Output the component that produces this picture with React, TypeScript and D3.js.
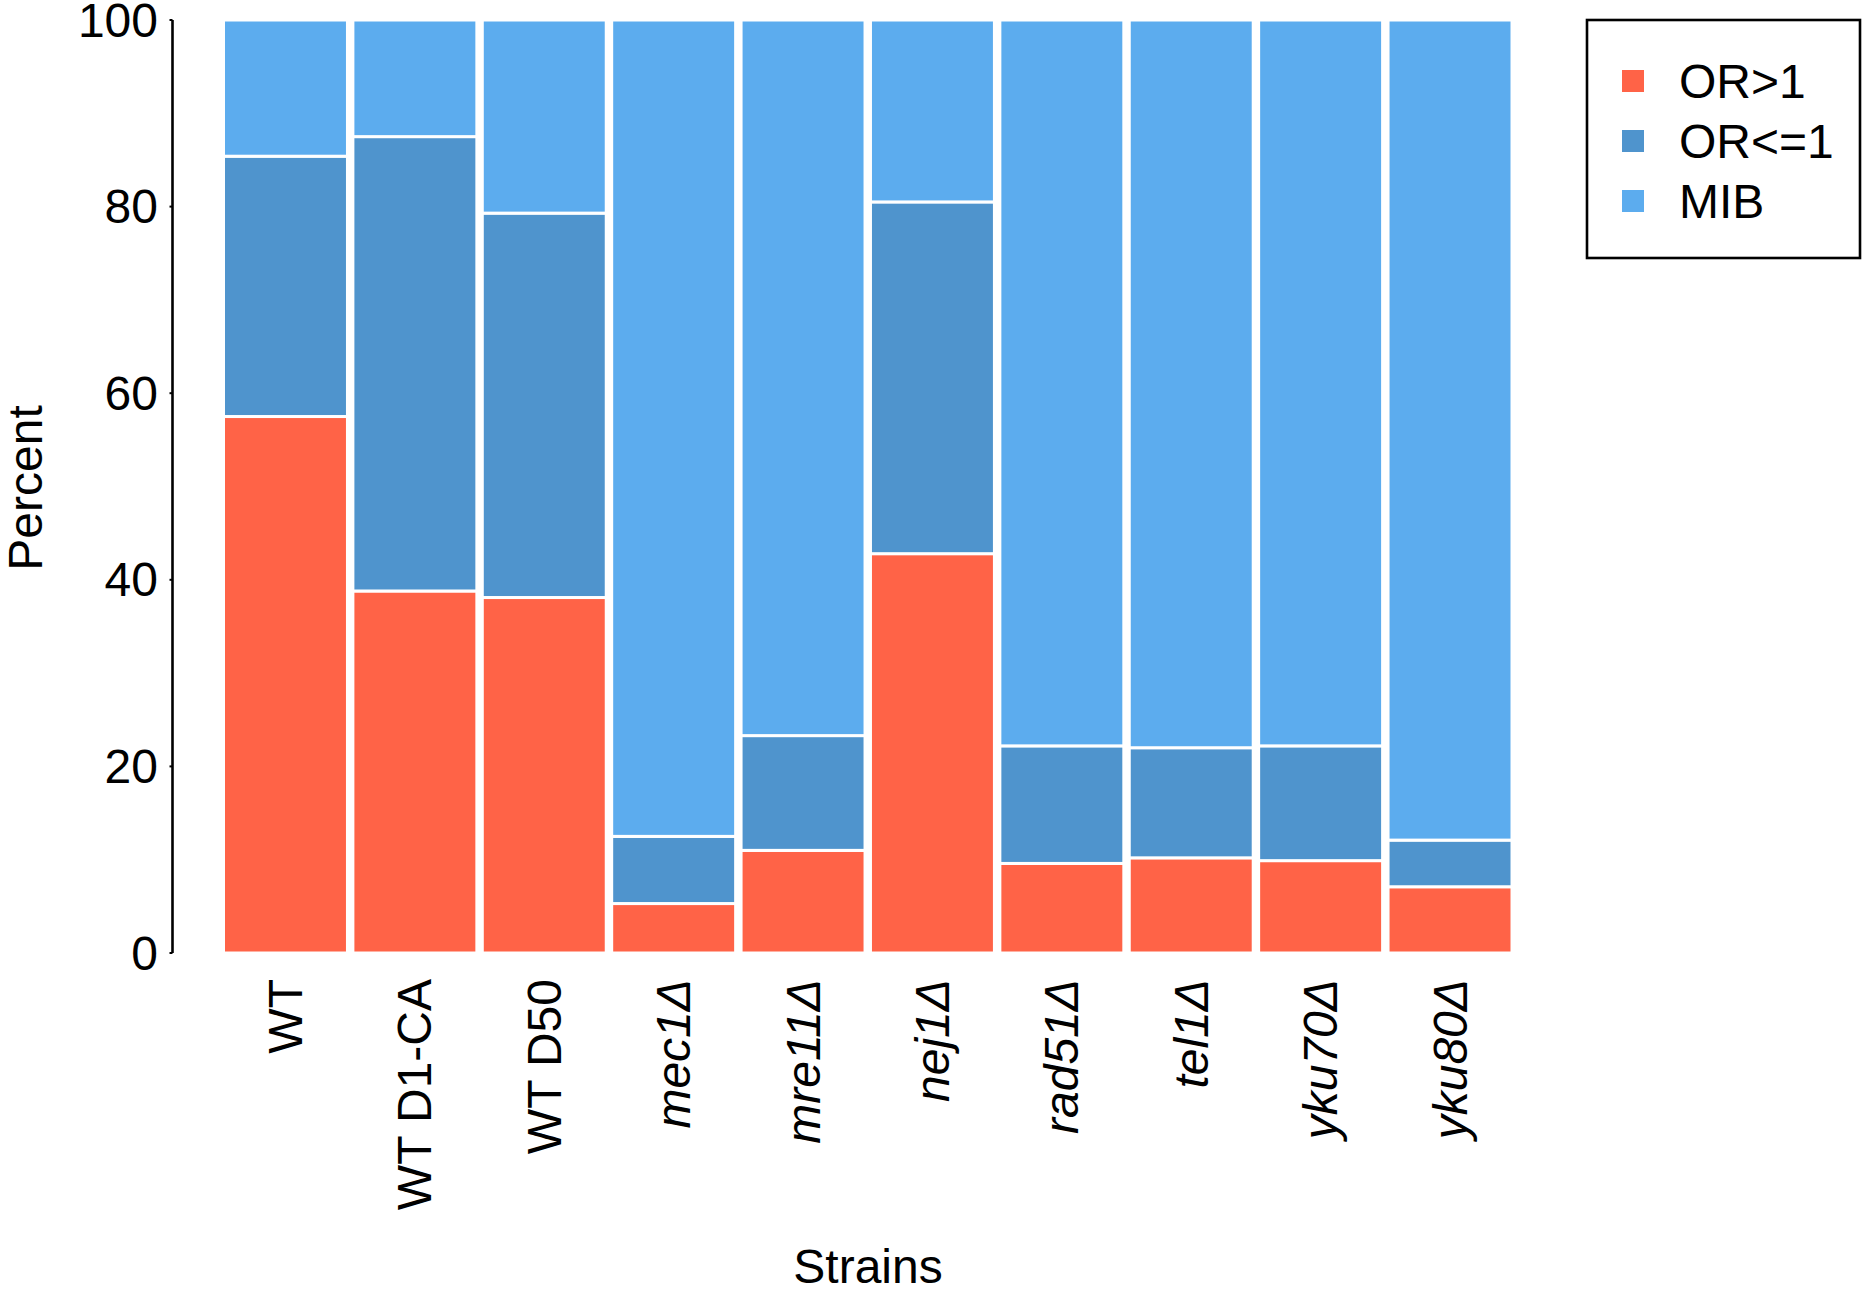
import React from "react";
import * as d3 from "d3";

// strains along the x axis; the mutant names are set in italics
const strains = ["WT", "WT D1-CA", "WT D50", "mec1Δ", "mre11Δ", "nej1Δ", "rad51Δ", "tel1Δ", "yku70Δ", "yku80Δ"];
const italicStrain = [false, false, false, true, true, true, true, true, true, true];

// percent of each class per strain (bottom to top)
const orGt1 = [57.5, 38.8, 38.1, 5.3, 11.0, 42.8, 9.6, 10.2, 9.9, 7.1];
const orLe1 = [27.9, 48.7, 41.2, 7.2, 12.3, 37.7, 12.6, 11.8, 12.3, 5.0];
const mib = strains.map((_, i) => 100 - orGt1[i] - orLe1[i]);

const classes = ["OR>1", "OR<=1", "MIB"];
const classColors = ["#FF6347", "#4F94CD", "#5CACEE"];
const yTicks = [0, 20, 40, 60, 80, 100];

const W = 1867;
const H = 1291;
const FONT = "'Liberation Sans', Arial, Helvetica, sans-serif";

export default function App() {
  const rows = strains.map((s, i) => ({
    strain: s,
    "OR>1": orGt1[i],
    "OR<=1": orLe1[i],
    MIB: mib[i],
  }));

  const x = d3
    .scaleBand<string>()
    .domain(strains)
    .range([223.5, 1512])
    .paddingInner(0.042)
    .paddingOuter(0);

  const y = d3.scaleLinear().domain([0, 100]).range([953, 20]);

  const color = d3.scaleOrdinal<string, string>().domain(classes).range(classColors);

  const series = d3.stack<any>().keys(classes)(rows);

  const axisX = 172.5;

  return (
    <svg
      width={W}
      height={H}
      style={{ position: "absolute", left: 0, top: 0, background: "#fff" }}
      fontFamily={FONT}
    >
      {/* stacked bars */}
      {series.map((s) => (
        <g key={s.key} fill={color(s.key)}>
          {s.map((d, i) => (
            <rect
              key={strains[i]}
              x={x(strains[i])}
              y={y(d[1])}
              width={x.bandwidth()}
              height={y(d[0]) - y(d[1])}
              stroke="#fff"
              strokeWidth={3}
            />
          ))}
        </g>
      ))}

      {/* y axis */}
      <line x1={axisX} x2={axisX} y1={y(100)} y2={y(0)} stroke="#000" strokeWidth={2.6} />
      {yTicks.map((t) => (
        <g key={t}>
          <line x1={axisX - 3} x2={axisX} y1={y(t)} y2={y(t)} stroke="#000" strokeWidth={2} />
          <text
            x={158}
            y={y(t)}
            textAnchor="end"
            dominantBaseline="central"
            fontSize={48}
            fill="#000"
          >
            {t}
          </text>
        </g>
      ))}

      {/* x tick labels, rotated */}
      {strains.map((s, i) => {
        const cx = (x(s) as number) + x.bandwidth() / 2;
        return (
          <text
            key={s}
            transform={`translate(${cx},979) rotate(-90)`}
            textAnchor="end"
            dominantBaseline="central"
            fontSize={48}
            fontStyle={italicStrain[i] ? "italic" : "normal"}
            fill="#000"
          >
            {s}
          </text>
        );
      })}

      {/* axis titles */}
      <text
        transform={`translate(25,488) rotate(-90)`}
        textAnchor="middle"
        dominantBaseline="central"
        fontSize={48}
        fill="#000"
      >
        Percent
      </text>
      <text x={868} y={1283} textAnchor="middle" fontSize={48} fill="#000">
        Strains
      </text>

      {/* legend */}
      <rect x={1587} y={20} width={273} height={238} fill="#fff" stroke="#000" strokeWidth={2.6} />
      {classes.map((c, i) => {
        const cy = 81 + i * 60;
        return (
          <g key={c}>
            <rect x={1622} y={cy - 11} width={22} height={22} fill={color(c)} />
            <text x={1679} y={cy} dominantBaseline="central" fontSize={48} fill="#000">
              {c}
            </text>
          </g>
        );
      })}
    </svg>
  );
}
